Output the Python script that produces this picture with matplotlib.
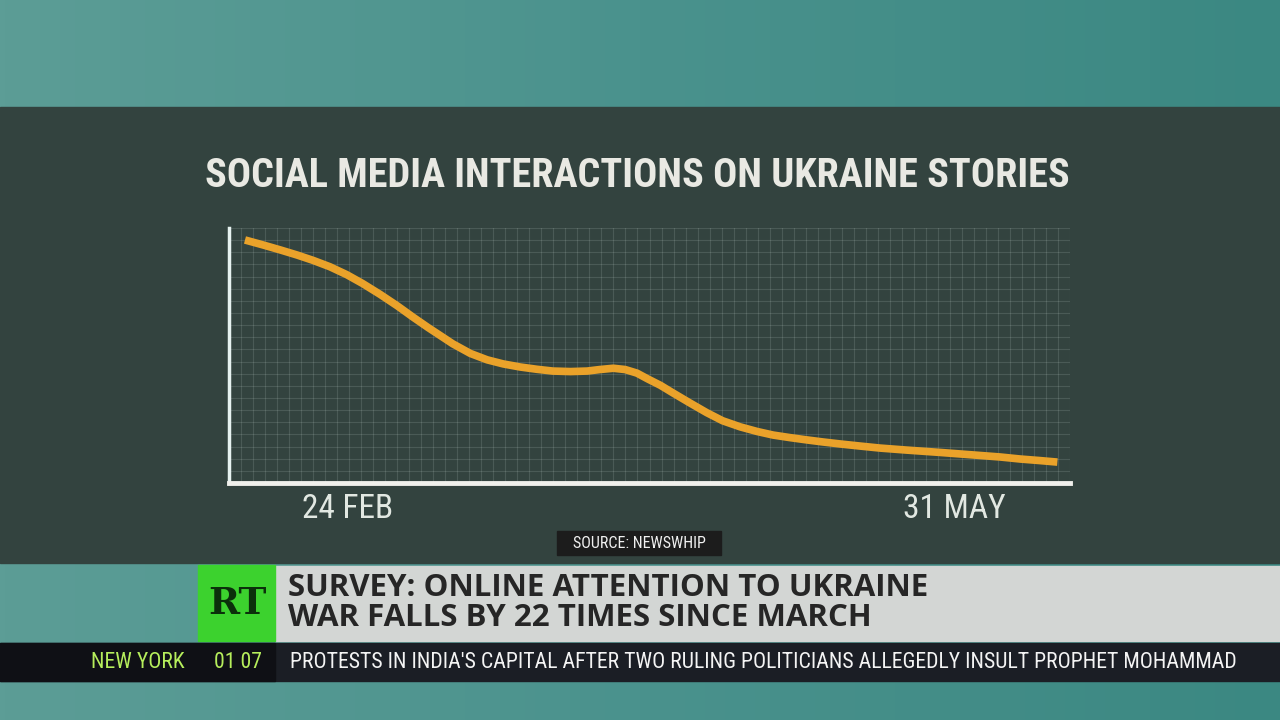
import numpy as np
import matplotlib
matplotlib.use("Agg")
import matplotlib.pyplot as plt
from matplotlib import font_manager as fm
from matplotlib.patches import Rectangle

# chart data (x: position along the time axis, y: relative interactions)
x_pos = [1.9, 4.0, 6.1, 8.1, 10.0, 12.0, 14.0, 15.9, 18.0, 20.0, 21.9, 23.7, 25.5,
         26.6, 28.7, 30.7, 32.6, 34.6, 36.6, 38.5, 40.6, 42.6, 44.1, 45.7, 47.1,
         48.5, 49.8, 51.3, 52.8, 54.8, 56.8, 58.7, 60.8, 62.8, 64.7, 66.7, 68.7,
         70.6, 72.7, 75.0, 77.4, 80.6, 84.5, 88.5, 91.7, 94.1, 96.4, 98.5]
interactions = [95.3, 93.4, 91.4, 89.4, 87.3, 84.8, 81.7, 78.2, 73.9, 69.5, 65.0, 60.9, 57.0,
                54.6, 50.8, 48.3, 46.7, 45.5, 44.6, 43.9, 43.7, 43.9, 44.5, 45.0, 44.5,
                43.1, 40.8, 38.3, 35.3, 31.4, 27.6, 24.4, 22.0, 20.2, 18.8, 17.8, 16.9,
                16.1, 15.3, 14.5, 13.7, 12.9, 12.0, 11.0, 10.2, 9.4, 8.8, 8.2]
tick_pos = [14.1, 86.3]
tick_labels = ["24 FEB", "31 MAY"]

title = "SOCIAL MEDIA INTERACTIONS ON UKRAINE STORIES"
source = "SOURCE: NEWSWHIP"
headline = ["SURVEY: ONLINE ATTENTION TO UKRAINE", "WAR FALLS BY 22 TIMES SINCE MARCH"]
ticker_city = "NEW YORK"
ticker_time = "01 07"
ticker_text = "PROTESTS IN INDIA'S CAPITAL AFTER TWO RULING POLITICIANS ALLEGEDLY INSULT PROPHET MOHAMMAD"

# pick a condensed font if one is installed
names = {f.name for f in fm.fontManager.ttflist}
cond = "DejaVu Sans"
for cand in ["Roboto Condensed", "Open Sans Condensed", "Liberation Sans Narrow"]:
    if cand in names:
        cond = cand
        break
cond_kw = dict(family=cond, fontstretch="condensed")

W, H = 1280, 720
fig = plt.figure(figsize=(12.8, 7.2), dpi=100)

# background in pixel coordinates
bg = fig.add_axes([0, 0, 1, 1])
bg.set_xlim(0, W)
bg.set_ylim(H, 0)
bg.axis("off")
grad = np.linspace(0, 1, 256)[None, :]
teal = matplotlib.colors.LinearSegmentedColormap.from_list("t", ["#5c9d96", "#4a928d", "#3b8882"])
bg.imshow(grad, cmap=teal, extent=[0, W, H, 0], aspect="auto", zorder=0)
bg.add_patch(Rectangle((0, 107), W, 456, color="#33433f", zorder=1))
bg.add_patch(Rectangle((275, 566), W - 275, 75, color="#d3d6d4", zorder=1))
bg.add_patch(Rectangle((198, 565), 77, 76, color="#3cd22e", zorder=1))
bg.add_patch(Rectangle((0, 643), W, 38, color="#1b1e25", zorder=1))
bg.add_patch(Rectangle((0, 643), 275, 38, color="#0f1015", zorder=1))
bg.add_patch(Rectangle((557, 531), 164, 24, color="#1c1c1c", zorder=1))

bg.text(637, 176, title, ha="center", va="center", color="#e9e9e3", fontsize=29,
        fontweight="bold", zorder=2, **cond_kw)
bg.text(639, 543, source, ha="center", va="center", color="#f0f0f0", fontsize=11.5, zorder=2, **cond_kw)
bg.text(237, 603, "RT", ha="center", va="center", color="#0b300b", fontsize=27,
        fontweight="bold", family="DejaVu Serif", zorder=2)
bg.text(288, 588, headline[0], ha="left", va="center", color="#262626", fontsize=22.5,
        fontweight="bold", family="Open Sans", zorder=2)
bg.text(288, 618, headline[1], ha="left", va="center", color="#262626", fontsize=22.5,
        fontweight="bold", family="Open Sans", zorder=2)
bg.text(185, 662, ticker_city, ha="right", va="center", color="#b6ee5c", fontsize=15.7, zorder=2, **cond_kw)
bg.text(262, 662, ticker_time, ha="right", va="center", color="#b6ee5c", fontsize=15.7, zorder=2, **cond_kw)
bg.text(290, 662, ticker_text, ha="left", va="center", color="#f4f4f4", fontsize=15.7, zorder=2, **cond_kw)

# chart axes: left 229, right 1070, top 228, bottom 483 (pixels)
ax = fig.add_axes([229 / W, 1 - 483 / H, (1070 - 229) / W, (483 - 228) / H])
ax.patch.set_alpha(0)
ax.set_xlim(0, 100)
ax.set_ylim(0, 100)
ax.set_xticks(np.linspace(0, 100, 71), minor=True)
ax.set_yticks(np.linspace(0, 100, 22), minor=True)
ax.grid(which="minor", color="#c8d8d2", alpha=0.16, linewidth=0.8)
ax.tick_params(which="both", length=0)
ax.set_yticks([])
ax.set_xticks(tick_pos)
ax.set_xticklabels(tick_labels, color="#e2e8e2", fontsize=24, **cond_kw)
ax.tick_params(axis="x", pad=7)
for s in ["top", "right"]:
    ax.spines[s].set_visible(False)
ax.spines["left"].set_color("#e6f2f0")
ax.spines["left"].set_linewidth(2.5)
ax.spines["bottom"].set_color("#f0f0ec")
ax.spines["bottom"].set_linewidth(3.5)
ax.plot(x_pos, interactions, color="#eaa22a", linewidth=5.5, solid_capstyle="butt",
        solid_joinstyle="round", zorder=3)

fig.savefig("out.png", dpi=100)
